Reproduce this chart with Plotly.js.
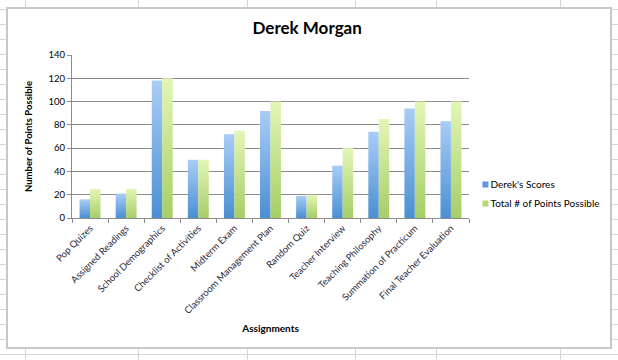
<!DOCTYPE html>
<html>
<head>
<meta charset="utf-8">
<script src="https://cdn.plot.ly/plotly-3.0.1.min.js"></script>
<style>
  html, body { margin:0; padding:0; width:618px; height:360px; overflow:hidden; background:#fff; }
  #sheet { position:absolute; left:0; top:0; width:618px; height:360px;
    background-image: repeating-linear-gradient(to bottom, transparent 0px, transparent 9px, #d6d6d6 9px, #d6d6d6 10px, transparent 10px, transparent 15px); }
  .col { position:absolute; top:0; width:1px; height:360px; background:#d6d6d6; }
  #box { position:absolute; left:6px; top:7px; width:602px; height:338px; border:2px solid #c8c8c8; background:#fff; }
  #chart { width:602px; height:338px; }
</style>
</head>
<body>
<div id="sheet"></div>
<div id="box"><div id="chart"></div></div>
<script>
const categories = ["Pop Quizes","Assigned Readings","School Demographics","Checklist of Activities","Midterm Exam","Classroom Management Plan","Random Quiz","Teacher Interview","Teaching Philosophy","Summation of Practicum","Final Teacher Evaluation"];
const derekScores = [16, 21, 118, 50, 72, 92, 19, 45, 74, 94, 83];
const totalPossible = [25, 25, 120, 50, 75, 100, 20, 60, 85, 100, 100];
const seriesNames = ["Derek's Scores", "Total # of Points Possible"];
const yTickValues = [0, 20, 40, 60, 80, 100, 120, 140];

// spreadsheet column lines (decoration)
const sheetCols = [25, 138, 247, 355, 436, 560];
sheetCols.forEach(function(x){ const d=document.createElement('div'); d.className='col'; d.style.left=x+'px'; document.getElementById('sheet').appendChild(d); });

const font = "Lato, 'Liberation Sans', sans-serif";
const traces = [
  { type:'bar', name:seriesNames[0], x:categories, y:derekScores, marker:{color:'#6fa6e3'} },
  { type:'bar', name:seriesNames[1], x:categories, y:totalPossible, marker:{color:'#c2e28a'} }
];
const layout = {
  width:602, height:338,
  margin:{l:64, r:141, t:46, b:129, autoexpand:false},
  paper_bgcolor:'#fff', plot_bgcolor:'#fff',
  font:{family:font, size:9, color:'#1a1a1a'},
  title:{text:'<b>Derek Morgan</b>', font:{family:font, size:17, color:'#000'}, x:0.497, xref:'container', y:0.944, yref:'container', xanchor:'center', yanchor:'middle'},
  barmode:'group', bargap:0.42, bargroupgap:0,
  xaxis:{
    type:'category', automargin:false, tickangle:-45, tickson:'boundaries', ticks:'outside', ticklen:4, tickcolor:'#8c8c8c',
    showline:true, linecolor:'#8c8c8c', linewidth:1, showgrid:false,
    tickfont:{family:font, size:9.5, color:'#2a2a40'},
    title:{text:'<b>Assignments</b>', font:{family:font, size:10, color:'#000'}, standoff:10}
  },
  yaxis:{
    range:[0,140], automargin:false, tickvals:yTickValues, ticks:'outside', ticklen:4, tickcolor:'#8c8c8c',
    showline:true, linecolor:'#8c8c8c', linewidth:1,
    showgrid:true, gridcolor:'#8c8c8c', gridwidth:1, zeroline:false,
    tickfont:{family:font, size:9.5, color:'#000'},
    title:{text:'<b>Number of Points Possible</b>', font:{family:font, size:9.5, color:'#000'}, standoff:14}
  },
  legend:{x:0.735, xref:'container', xanchor:'left', y:0.453, yref:'container', yanchor:'middle', font:{family:font, size:10, color:'#000'}, itemwidth:30, tracegroupgap:0, bgcolor:'rgba(0,0,0,0)'},
  showlegend:true
};
Plotly.newPlot('chart', traces, layout, {staticPlot:true, displayModeBar:false}).then(function(gd){
  const svg = gd.querySelector('svg.main-svg');
  const ns = 'http://www.w3.org/2000/svg';
  let defs = svg.querySelector('defs');
  if (!defs) { defs = document.createElementNS(ns,'defs'); svg.insertBefore(defs, svg.firstChild); }
  function grad(id, top, bottom){
    const g = document.createElementNS(ns,'linearGradient');
    g.setAttribute('id', id); g.setAttribute('x1','0'); g.setAttribute('y1','0'); g.setAttribute('x2','0'); g.setAttribute('y2','1');
    [[0,top],[1,bottom]].forEach(function(s){ const st=document.createElementNS(ns,'stop'); st.setAttribute('offset', s[0]); st.setAttribute('stop-color', s[1]); g.appendChild(st); });
    defs.appendChild(g);
  }
  grad('gBlue', '#a9cdf6', '#4a8fd3');
  grad('gGreen', '#e3f6b6', '#a6ce68');
  const ids = ['gBlue','gGreen'];
  gd.querySelectorAll('.barlayer .trace').forEach(function(t, i){ t.querySelectorAll('path').forEach(function(p){ p.style.fill = 'url(#'+ids[i]+')'; }); });
  // smaller legend swatches placed close to the text, like the original
  gd.querySelectorAll('.legend .traces').forEach(function(t, i){
    t.querySelectorAll('.legendpoints path').forEach(function(p){
      p.setAttribute('transform', 'translate(35,0) scale(0.5)');
      p.style.fill = ['#5d9ad9','#b5d97a'][i];
      p.style.stroke = 'none';
    });
  });
});
</script>
</body>
</html>
